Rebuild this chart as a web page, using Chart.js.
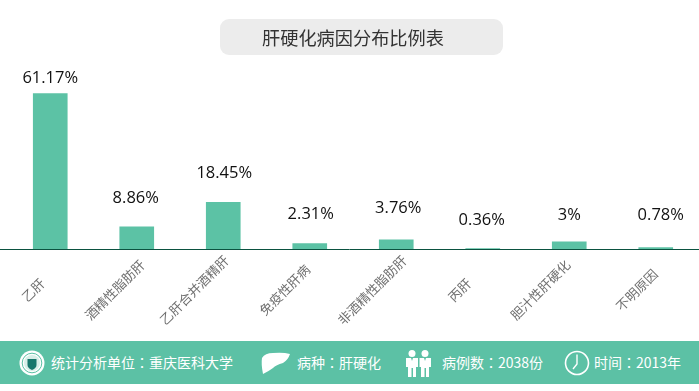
<!DOCTYPE html>
<html lang="zh">
<head>
<meta charset="utf-8">
<script src="https://cdn.jsdelivr.net/npm/chart.js@4"></script>
<style>
html,body{margin:0;padding:0;background:#fff;overflow:hidden}
#wrap{position:relative;width:699px;height:391px;font-family:"Noto Sans CJK SC","Noto Sans",sans-serif}
canvas{position:absolute;left:0;top:0}
#title{position:absolute;left:220px;top:19px;width:283px;height:36px;background:#ececec;border-radius:9px}
#title span{position:absolute;left:42px;top:0;font-size:18.200px;line-height:36px;color:#333;white-space:nowrap}
#foot{position:absolute;left:0;top:341px;width:699px;height:43px;background:#5cc1a5}
.t{position:absolute;top:0;line-height:43px;font-size:14px;color:#fff;white-space:nowrap;font-family:"Noto Sans CJK SC",sans-serif}
.t i{font-style:normal;font-family:"Noto Sans CJK TC",sans-serif}
svg{position:absolute}
</style>
</head>
<body>
<div id="wrap">
<canvas id="c" width="699" height="391"></canvas>
<div id="title"><span>肝硬化病因分布比例表</span></div>
<div id="foot">
  <svg style="left:19px;top:9px" width="26" height="26" viewBox="0 0 26 26">
    <circle cx="13" cy="13" r="12.500" fill="#fff"/>
    <circle cx="13" cy="13" r="9.800" fill="none" stroke="#5cc1a5" stroke-width="1"/>
    <circle cx="13" cy="13" r="8" fill="#d8efe8"/>
    <path d="M8.500 9h9v6q0 3-4.500 5q-4.500-2-4.500-5z" fill="#17776c"/>
  </svg>
  <div class="t" style="left:51px">统计分析单位<i lang="zh-TW">：</i>重庆医科大学</div>
  <svg style="left:261px;top:11px" width="30" height="22" viewBox="0 0 30 22">
    <path d="M1 6Q4 1 12 1Q22 0 29 2Q27 8 22 11Q15 13 12 16Q8 19 2 22Q0 12 1 6z" fill="#fff"/>
  </svg>
  <div class="t" style="left:297px">病种<i lang="zh-TW">：</i>肝硬化</div>
  <svg style="left:406px;top:9px" width="26" height="27" viewBox="0 0 26 27">
    <g fill="#fff">
      <circle cx="6" cy="3.500" r="3.500"/><circle cx="19" cy="3.500" r="3.500"/>
      <path d="M0 8h5l1 3 1-3h5v9h-2v10H7V18H5.500v9H2V17H0z"/>
      <path d="M13.500 8h4.500l1 3 1-3h5v9h-2v10h-3V18h-1.500v9H15V17h-1.500z"/>
    </g>
  </svg>
  <div class="t" style="left:442px">病例数<i lang="zh-TW">：</i>2038份</div>
  <svg style="left:564px;top:9px" width="26" height="26" viewBox="0 0 26 26">
    <circle cx="13" cy="13" r="11.500" fill="none" stroke="#fff" stroke-width="1.600"/>
    <path d="M13 4.500V14L9 19" fill="none" stroke="#fff" stroke-width="1.400"/>
  </svg>
  <div class="t" style="left:594px">时间<i lang="zh-TW">：</i>2013年</div>
</div>
</div>
<script>
const categories = ["乙肝","酒精性脂肪肝","乙肝合并酒精肝","免疫性肝病","非酒精性脂肪肝","丙肝","胆汁性肝硬化","不明原因"];
const values = [61.17, 8.86, 18.45, 2.31, 3.76, 0.36, 3, 0.78];
const valueLabels = ["61.17%","8.86%","18.45%","2.31%","3.76%","0.36%","3%","0.78%"];
const labelOffsets = [15.5, 28.5, 29.5, 29.5, 31.5, 28.5, 26.5, 32.5];
const labelShifts = [0, -1, 1, 1, 2, -1, 0, 5];
const tickShifts = [-17, -22, -29, -25, -24, -23, -29, -19];

const barLabels = {
  id:"barLabels",
  afterDatasetsDraw(chart){
    const ctx = chart.ctx, meta = chart.getDatasetMeta(0), xs = chart.scales.x;
    ctx.save();
    ctx.strokeStyle = "#0b5240"; ctx.lineWidth = 1;
    ctx.beginPath(); ctx.moveTo(0, xs.top); ctx.lineTo(699, xs.top); ctx.stroke();
    ctx.font = '16.500px "Open Sans", sans-serif';
    ctx.fillStyle = "#111"; ctx.textAlign = "center"; ctx.textBaseline = "middle";
    meta.data.forEach((b,i)=>ctx.fillText(valueLabels[i], b.x + labelShifts[i], b.y - labelOffsets[i]));
    ctx.font = '13px "Noto Sans CJK SC", sans-serif';
    ctx.fillStyle = "#707070";
    xs.ticks.forEach((t,i)=>{
      ctx.save();
      ctx.translate(xs.getPixelForTick(i) + tickShifts[i], xs.top + 40.5);
      ctx.rotate(-Math.PI/4);
      ctx.fillText(categories[i], 0, 0);
      ctx.restore();
    });
    ctx.restore();
  }
};

new Chart(document.getElementById("c"),{
  type:"bar",
  data:{labels:categories,datasets:[{data:values,backgroundColor:"#5cc2a5",barThickness:34,borderWidth:0}]},
  plugins:[barLabels],
  options:{
    responsive:false,animation:false,
    layout:{padding:{left:7,right:0,top:20,bottom:49.5}},
    plugins:{legend:{display:false},tooltip:{enabled:false},title:{display:false}},
    scales:{
      x:{
        afterFit(s){s.height=92;s.paddingLeft=0;s.paddingRight=0;},
        grid:{display:false},border:{display:false},
        ticks:{display:false,autoSkip:false}
      },
      y:{display:false,min:0,max:90}
    }
  }
});
</script>
</body>
</html>
